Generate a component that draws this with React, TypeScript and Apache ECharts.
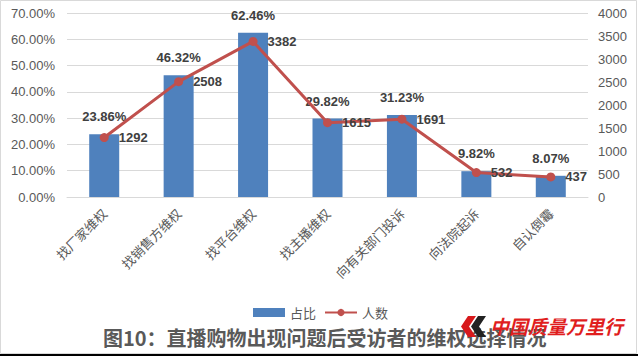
import React, { useEffect, useRef } from "react";
import * as echarts from "echarts";

const categories = ["找厂家维权", "找销售方维权", "找平台维权", "找主播维权", "向有关部门投诉", "向法院起诉", "自认倒霉"];
const shareValues = [23.86, 46.32, 62.46, 29.82, 31.23, 9.82, 8.07];
const peopleValues = [1292, 2508, 3382, 1615, 1691, 532, 437];
const seriesNames = ["占比", "人数"];
const titleText = "图10：直播购物出现问题后受访者的维权选择情况";
const logoText = "中国质量万里行";

export default function App() {
  const ref = useRef<HTMLDivElement>(null);
  useEffect(() => {
    document.body.style.margin = "0";
    const chart = echarts.init(ref.current!, null, { renderer: "svg" });
    const font = "'Liberation Sans', Arial, 'Noto Sans CJK SC', sans-serif";
    chart.setOption({
      animation: false,
      backgroundColor: "#ffffff",
      textStyle: { fontFamily: font },
      title: {
        text: titleText,
        left: 98,
        top: 322,
        textStyle: {
          fontFamily: "'Noto Sans CJK SC', sans-serif",
          fontSize: 20,
          fontWeight: "bold",
          color: "#595959",
        },
      },
      legend: {
        left: 248,
        top: 301,
        itemGap: 8,
        itemWidth: 32,
        itemHeight: 9,
        textStyle: { color: "#595959", fontSize: 13, fontFamily: "'Noto Sans CJK SC', sans-serif" },
        data: [
          { name: seriesNames[0], icon: "rect" },
          { name: seriesNames[1] },
        ],
      },
      grid: { left: 67, right: 50, top: 13, bottom: 160 },
      xAxis: {
        type: "category",
        data: categories,
        axisLine: { lineStyle: { color: "#d9d9d9" } },
        axisTick: { show: false },
        axisLabel: {
          rotate: 45,
          interval: 0,
          color: "#595959",
          fontSize: 13,
          margin: 14,
          fontFamily: "'Noto Sans CJK SC', sans-serif",
        },
      },
      yAxis: [
        {
          type: "value",
          min: 0,
          max: 70,
          interval: 10,
          axisLine: { show: false },
          axisTick: { show: false },
          splitLine: { lineStyle: { color: "#d9d9d9" } },
          axisLabel: {
            color: "#595959",
            fontSize: 13,
            margin: 12,
            formatter: (v: number) => v.toFixed(2) + "%",
          },
        },
        {
          type: "value",
          min: 0,
          max: 4000,
          interval: 500,
          axisLine: { show: false },
          axisTick: { show: false },
          splitLine: { show: false },
          axisLabel: { color: "#595959", fontSize: 13, margin: 10, formatter: (v: number) => String(v) },
        },
      ],
      series: [
        {
          name: seriesNames[0],
          type: "bar",
          data: shareValues,
          barWidth: 30,
          itemStyle: { color: "#4f81bd" },
          label: {
            show: true,
            position: "top",
            distance: 11,
            fontSize: 13,
            fontWeight: "bold",
            color: "#404040",
            formatter: (p: any) => p.value.toFixed(2) + "%",
          },
        },
        {
          name: seriesNames[1],
          type: "line",
          yAxisIndex: 1,
          data: peopleValues,
          symbol: "circle",
          symbolSize: 9,
          lineStyle: { color: "#c0504d", width: 3 },
          itemStyle: { color: "#c0504d" },
          label: {
            show: true,
            position: "right",
            distance: 10,
            fontSize: 13,
            fontWeight: "bold",
            color: "#404040",
          },
          z: 3,
        },
      ],
      graphic: [
        {
          type: "rect",
          silent: true,
          shape: { x: 0.5, y: 0.5, width: 636, height: 353 },
          style: { fill: "none", stroke: "#d9d9d9", lineWidth: 1 },
          z: 0,
        },
        {
          type: "line",
          silent: true,
          shape: { x1: 0, y1: 355, x2: 638, y2: 355 },
          style: { stroke: "#000000", lineWidth: 2 },
        },
        {
          type: "polygon",
          silent: true,
          z: 100,
          shape: { points: [[476, 316], [468, 316], [461, 326.5], [468, 337], [476, 337], [469, 326.5]] },
          style: { fill: "#d7191c" },
        },
        {
          type: "polygon",
          silent: true,
          z: 100,
          shape: { points: [[486, 316], [478, 316], [471, 326.5], [478, 337], [486, 337], [479, 326.5]] },
          style: { fill: "#222222" },
        },
        {
          type: "text",
          silent: true,
          z: 100,
          x: 490,
          y: 316,
          style: {
            text: logoText,
            font: "italic bold 19px 'Noto Sans CJK SC', sans-serif",
            fill: "#e01e1e",
          },
        },
      ],
    });
    return () => chart.dispose();
  }, []);
  return <div ref={ref} style={{ width: 638, height: 357 }} />;
}
